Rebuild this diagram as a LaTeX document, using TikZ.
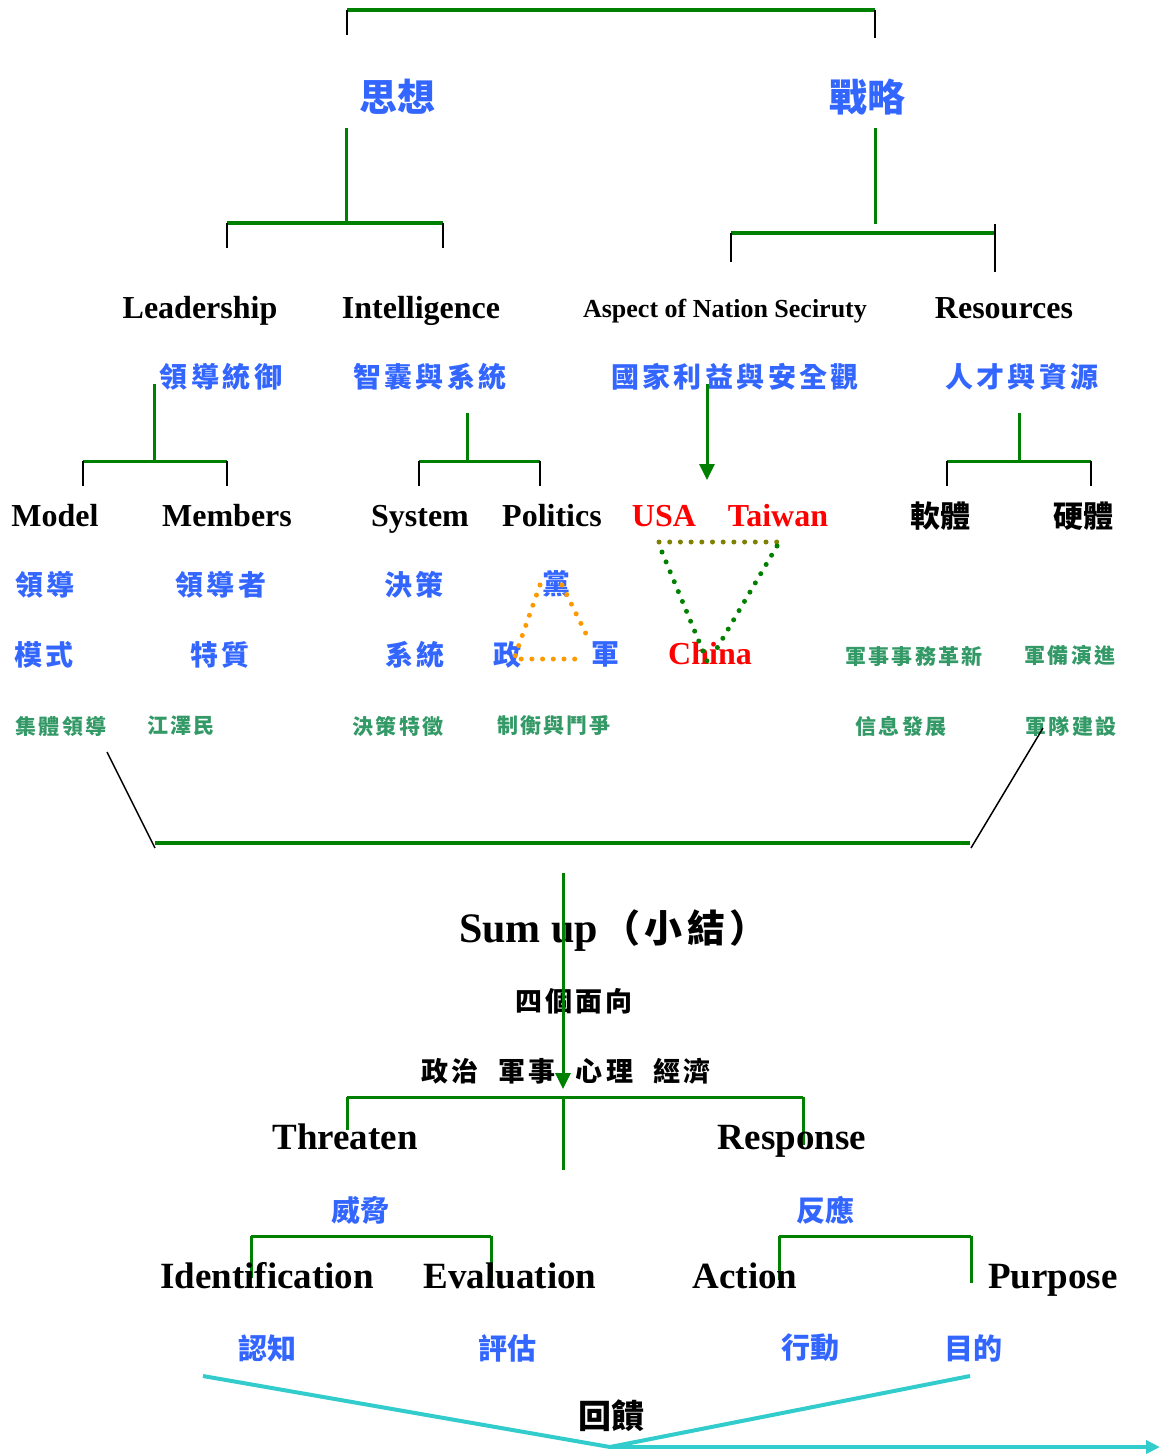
\documentclass[tikz,border=0pt]{standalone}
\usepackage{fontspec}
\setmainfont{Liberation Serif}
\newfontfamily\cjk{Noto Sans CJK TC}
\newfontfamily\cjkls{Noto Sans CJK TC}[LetterSpace=12]
\newfontfamily\cjksm{Noto Sans CJK TC}[LetterSpace=10]
\newfontfamily\cjkpar{Noto Sans CJK TC}[LetterSpace=12]
\usetikzlibrary{arrows.meta}
\definecolor{tblue}{HTML}{3366FF}
\definecolor{tgreen}{HTML}{339966}
\definecolor{lgreen}{HTML}{008000}
\definecolor{tcyan}{HTML}{33CCCC}
\definecolor{tolive}{HTML}{808000}
\definecolor{torange}{HTML}{FF9900}
\definecolor{tred}{HTML}{FF0000}
\tikzset{
  every node/.style={inner sep=0pt},
  en/.style={anchor=base, font=\fontsize{32}{36}\selectfont\bfseries},
  ensm/.style={anchor=base, font=\fontsize{26}{30}\selectfont\bfseries},
  enbig/.style={anchor=base, font=\fontsize{37}{40}\selectfont\bfseries},
  enred/.style={en, text=tred},
  cbig/.style={text=tblue, font=\fontsize{38}{40}\selectfont\cjk\bfseries},
  cb/.style={text=tblue, font=\fontsize{28}{30}\selectfont\cjkls\bfseries},
  cbw/.style={text=tblue, font=\fontsize{29}{30}\selectfont\cjk\bfseries},
  cg/.style={text=tgreen, font=\fontsize{21}{24}\selectfont\cjksm\bfseries},
  ck/.style={text=black, font=\fontsize{30}{32}\selectfont\cjk\bfseries},
  cks/.style={text=black, font=\fontsize{27}{30}\selectfont\cjkls\bfseries},
  gline/.style={draw=lgreen, line width=3pt},
  gthick/.style={draw=lgreen, line width=4pt},
  tick/.style={draw=black, line width=1.5pt},
  garrow/.style={draw=lgreen, line width=3pt, -{Triangle[width=15pt,length=16pt]}},
  dots/.style={line width=5pt, line cap=round, dash pattern=on 0pt off 10.7pt},
  cline/.style={draw=tcyan, line width=4pt},
}
\begin{document}
\begin{tikzpicture}[x=1pt,y=-1pt]
\useasboundingbox (0,0) rectangle (1160,1454);

% top bracket
\draw[gthick] (347,10) -- (875,10);
\draw[tick] (347,10) -- (347,35);
\draw[tick] (875,10) -- (875,38);

\node[cbig] (sixiang) at (397,97) {思想};
\node[cbig] (zhanlue) at (867,97) {戰略};

% left branch
\draw[gline] (346,128) -- (346,223);
\draw[gthick] (227,223) -- (443,223);
\draw[tick] (227,223) -- (227,248);
\draw[tick] (443,223) -- (443,248);

% right branch
\draw[gline] (875,128) -- (875,224);
\draw[gthick] (731,233) -- (995,233);
\draw[tick] (731,233) -- (731,262);
\draw[tick] (995,224) -- (995,272);

\node[en] (lead) at (200,318) {Leadership};
\node[en] (intel) at (421,318) {Intelligence};
\node[ensm] (aspect) at (725,317) {Aspect of Nation Seciruty};
\node[en] (res) at (1004,318) {Resources};

\node[cb] (c1) at (221,377) {領導統御};
\node[cb] (c2) at (430,377) {智囊與系統};
\node[cb] (c3) at (735,377) {國家利益與安全觀};
\node[cb] (c4) at (1022,377) {人才與資源};

% sub brackets
\draw[gline] (154,384) -- (154,460);
\draw[gline] (83,461) -- (227,461);
\draw[tick] (83,461) -- (83,486);
\draw[tick] (227,461) -- (227,486);

\draw[gline] (467,413) -- (467,460);
\draw[gline] (419,461) -- (540,461);
\draw[tick] (419,461) -- (419,486);
\draw[tick] (540,461) -- (540,486);

\draw[garrow] (707,384) -- (707,480);

\draw[gline] (1019,413) -- (1019,460);
\draw[gline] (947,461) -- (1091,461);
\draw[tick] (947,461) -- (947,486);
\draw[tick] (1091,461) -- (1091,486);

% row of labels
\node[en] (model) at (55,526) {Model};
\node[en] (members) at (227,526) {Members};
\node[en] (system) at (420,526) {System};
\node[en] (politics) at (552,526) {Politics};
\node[enred] (usa) at (664,526) {USA};
\node[enred] (taiwan) at (778,526) {Taiwan};
\node[ck] (soft) at (940,516) {軟體};
\node[ck] (hard) at (1083,516) {硬體};

\node[cb] (r1) at (45,585) {領導};
\node[cb] (r2) at (221,585) {領導者};
\node[cb] (r3) at (414,585) {決策};
\node[cb] (dang) at (556,584) {黨};

\node[cb] (r5) at (44,655) {模式};
\node[cb] (r6) at (220,655) {特質};
\node[cb] (r7) at (415,655) {系統};
\node[cb] (zheng) at (507,655) {政};
\node[cb] (jun) at (605,654) {軍};
\node[enred] (china) at (710,664) {China};
\node[cg] (g1) at (914,656) {軍事事務革新};
\node[cg] (g2) at (1070,656) {軍備演進};

\node[cg] (g3) at (61,726) {集體領導};
\node[cg] (g4) at (181,726) {江澤民};
\node[cg] (g5) at (398,726) {決策特徵};
\node[cg] (g6) at (554,726) {制衡與鬥爭};
\node[cg] (g7) at (901,726) {信息發展};
\node[cg] (g8) at (1071,726) {軍隊建設};

% triangles
\draw[dots, draw=torange] (540,585) -- (514,659) -- (580,659);
\draw[dots, draw=torange] (562,585) -- (588,638);
\draw[dots, draw=tolive] (659,542) -- (779,542);
\draw[dots, draw=lgreen] (662,552) -- (707,661);
\draw[dots, draw=lgreen] (777,546) -- (713,655);

% big bracket
\draw[tick] (107,752) -- (155,848);
\draw[gthick] (155,843) -- (970,843);
\draw[tick] (971,848) -- (1043,728);

% sum up
\node[anchor=base west, font=\fontsize{42}{44}\selectfont\bfseries] (sumup) at (459,942) {Sum up\hspace{4pt}{\fontsize{38}{40}\selectfont\cjkpar（小結）}};
\node[cks] (four) at (574,1001) {四個面向};
\node[cks] (aspects) at (566,1071) {政治\hspace{20pt}軍事\hspace{20pt}心理\hspace{20pt}經濟};
\draw[garrow] (563,873) -- (563,1089);

\draw[gline] (347,1097) -- (803,1097);
\draw[gline] (347,1097) -- (347,1130);
\draw[gline] (803,1097) -- (803,1145);
\draw[gline] (563,1099) -- (563,1170);

\node[enbig] (threaten) at (345,1149) {Threaten};
\node[enbig] (response) at (792,1149) {Response};

\node[cbw] (weixie) at (360,1210) {威脅};
\node[cbw] (fanying) at (825,1210) {反應};

\draw[gline] (251,1236) -- (491,1236);
\draw[gline] (251,1236) -- (251,1278);
\draw[gline] (491,1236) -- (491,1282);
\draw[gline] (779,1236) -- (971,1236);
\draw[gline] (779,1236) -- (779,1280);
\draw[gline] (971,1236) -- (971,1283);

\node[enbig] (ident) at (267,1288) {Identification};
\node[enbig] (eval) at (510,1288) {Evaluation};
\node[enbig] (action) at (745,1288) {Action};
\node[enbig] (purpose) at (1053,1288) {Purpose};

\node[cbw] (renzhi) at (267,1348) {認知};
\node[cbw] (pinggu) at (507,1348) {評估};
\node[cbw] (xingdong) at (810,1348) {行動};
\node[cbw] (mudi) at (973,1348) {目的};

\node[ck, font=\fontsize{33}{36}\selectfont\cjk\bfseries] (huikui) at (611,1416) {回饋};

\coordinate (vl) at (203,1376);
\coordinate (vb) at (610,1447);
\coordinate (vr) at (970,1376);
\coordinate (ve) at (1160,1447);
\draw[cline, line join=miter] (vl) -- (vb) -- (vr);
\draw[cline, -{Triangle[width=13pt,length=14pt]}] (vb) -- (ve);
\end{tikzpicture}
\end{document}
